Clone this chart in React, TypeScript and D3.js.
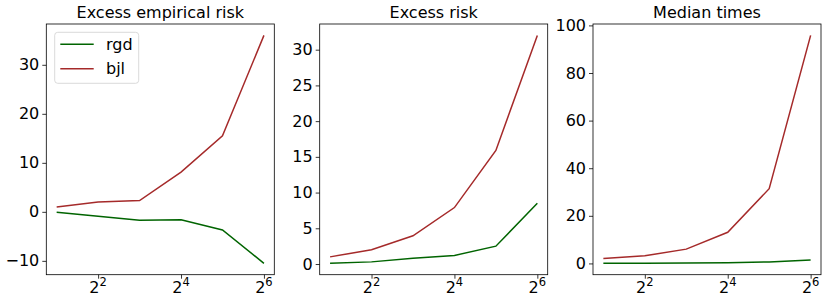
import React, { useEffect, useRef } from 'react';
import * as d3 from 'd3';

const xs = [2, 4, 8, 16, 32, 64];
const xTickExps = [2, 4, 6];

const titles = ['Excess empirical risk', 'Excess risk', 'Median times'];
const seriesNames = ['rgd', 'bjl'];
const seriesColors = ['#006400', '#a52a2a'];

const empRgd = [-0.1, -0.9, -1.7, -1.6, -3.7, -10.5];
const empBjl = [1.0, 2.0, 2.3, 8.1, 15.5, 36.0];
const riskRgd = [0.1, 0.3, 0.8, 1.2, 2.5, 8.5];
const riskBjl = [1.0, 2.0, 3.95, 7.9, 15.9, 32.0];
const timeRgd = [0.05, 0.1, 0.15, 0.3, 0.6, 1.4];
const timeBjl = [2.1, 3.2, 6.0, 13.1, 31.4, 95.8];

const yTicks = [
  [-10, 0, 10, 20, 30],
  [0, 5, 10, 15, 20, 25, 30],
  [0, 20, 40, 60, 80, 100],
];

const panelData = [
  [empRgd, empBjl],
  [riskRgd, riskBjl],
  [timeRgd, timeBjl],
];

const lefts = [46.3, 319.7, 593];
const W = 228, top = 24, bottom = 274.7;
const font = 'DejaVu Sans, sans-serif';

const App = () => {
  const ref = useRef<SVGSVGElement>(null);

  useEffect(() => {
    const svg = d3.select(ref.current);
    svg.selectAll('*').remove();

    panelData.forEach((series, p) => {
      const left = lefts[p];
      const right = left + W;
      const x = d3.scaleLog().base(2)
        .domain([Math.pow(2, 0.75), Math.pow(2, 6.25)])
        .range([left, right]);
      const all = series.flat();
      const lo = d3.min(all)!, hi = d3.max(all)!;
      const pad = (hi - lo) * 0.05;
      const y = d3.scaleLinear().domain([lo - pad, hi + pad]).range([bottom, top]);

      const g = svg.append('g');

      const line = d3.line<number>()
        .x((d, i) => x(xs[i]))
        .y(d => y(d));

      series.forEach((vals, s) => {
        g.append('path')
          .datum(vals)
          .attr('d', line)
          .attr('fill', 'none')
          .attr('stroke', seriesColors[s])
          .attr('stroke-width', 1.5);
      });

      // y axis
      const yAxis = g.append('g')
        .attr('transform', `translate(${left},0)`)
        .call(d3.axisLeft(y).tickValues(yTicks[p]).tickSize(4).tickPadding(3)
          .tickFormat(d => d3.format('d')(d as number).replace('-', '\u2212')));
      yAxis.select('.domain').remove();
      yAxis.selectAll('text').attr('font-size', 16).attr('font-family', font).attr('fill', '#000');
      yAxis.selectAll('line').attr('stroke', '#000').attr('stroke-width', 0.8);

      // x axis
      const xAxis = g.append('g')
        .attr('transform', `translate(0,${bottom})`)
        .call(d3.axisBottom(x).tickValues(xTickExps.map(e => Math.pow(2, e))).tickSize(4).tickFormat(() => ''));
      xAxis.select('.domain').remove();
      xAxis.selectAll('line').attr('stroke', '#000').attr('stroke-width', 0.8);

      xTickExps.forEach(e => {
        const t = g.append('text')
          .attr('x', x(Math.pow(2, e)))
          .attr('y', 293)
          .attr('text-anchor', 'middle')
          .attr('font-family', font)
          .attr('font-size', 16)
          .attr('fill', '#000');
        t.append('tspan').text('2');
        t.append('tspan').attr('dy', -7).attr('font-size', 11.5).text(String(e));
      });

      // frame
      g.append('rect')
        .attr('x', left).attr('y', top)
        .attr('width', W).attr('height', bottom - top)
        .attr('fill', 'none')
        .attr('stroke', '#000')
        .attr('stroke-width', 0.8);

      g.append('text')
        .attr('x', left + W / 2)
        .attr('y', 18)
        .attr('text-anchor', 'middle')
        .attr('font-family', font)
        .attr('font-size', 16)
        .text(titles[p]);

      if (p === 0) {
        const lg = g.append('g').attr('transform', 'translate(54.7,32.3)');
        lg.append('rect')
          .attr('width', 84).attr('height', 51)
          .attr('rx', 3)
          .attr('fill', '#fff')
          .attr('fill-opacity', 0.8)
          .attr('stroke', '#d0d0d0')
          .attr('stroke-width', 0.8);
        seriesNames.forEach((name, i) => {
          const ly = 12 + i * 24.4;
          lg.append('line')
            .attr('x1', 5.6).attr('x2', 39)
            .attr('y1', ly).attr('y2', ly)
            .attr('stroke', seriesColors[i])
            .attr('stroke-width', 1.5);
          lg.append('text')
            .attr('x', 51.3).attr('y', ly + 5.5)
            .attr('font-family', font)
            .attr('font-size', 16)
            .text(name);
        });
      }
    });
  }, []);

  return (
    <svg ref={ref} width={831} height={304}
      style={{ position: 'absolute', left: 0, top: 0, background: '#fff' }} />
  );
};

export default App;
